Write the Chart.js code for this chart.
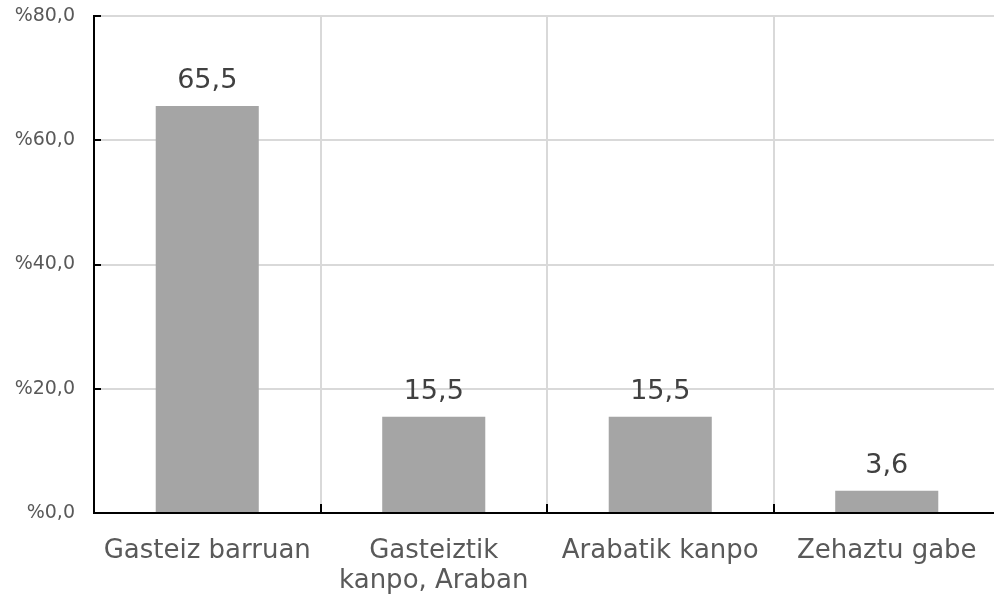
<!DOCTYPE html>
<html>
<head>
<meta charset="utf-8">
<script src="https://cdn.jsdelivr.net/npm/chart.js@4"></script>
<style>
  html, body { margin: 0; padding: 0; background: #fff; overflow: hidden; }
  #wrap { width: 1000px; height: 597px; position: relative; }
</style>
</head>
<body>
<div id="wrap"><canvas id="myChart"></canvas></div>
<script>
// categories and values
const categories = ['Gasteiz barruan', ['Gasteiztik', 'kanpo, Araban'], 'Arabatik kanpo', 'Zehaztu gabe'];
const values = [65.5, 15.5, 15.5, 3.6];
const yTicks = [0, 20, 40, 60, 80];

const fmt = (v) => v.toFixed(1).replace('.', ',');

// data labels above the bars + inner tick marks on the axes
const extras = {
    id: 'extras',
    afterDatasetsDraw(chart) {
        const ctx = chart.ctx;
        const meta = chart.getDatasetMeta(0);
        ctx.save();
        ctx.font = '27px "DejaVu Sans"';
        ctx.fillStyle = '#404040';
        ctx.textAlign = 'center';
        ctx.textBaseline = 'alphabetic';
        meta.data.forEach((bar, i) => {
            ctx.fillText(fmt(values[i]), bar.x, bar.y - 18);
        });
        ctx.restore();
    },
    afterDraw(chart) {
        const ctx = chart.ctx;
        const area = chart.chartArea;
        const y = chart.scales.y;
        ctx.save();
        ctx.strokeStyle = '#000';
        ctx.lineWidth = 2;
        ctx.beginPath();
        yTicks.forEach(t => {
            const py = Math.round(y.getPixelForValue(t));
            ctx.moveTo(area.left, py);
            ctx.lineTo(area.left + 7, py);
        });
        const step = (area.right - area.left) / categories.length;
        for (let i = 1; i <= categories.length; i++) {
            const px = Math.round(area.left + step * i);
            ctx.moveTo(px, area.bottom);
            ctx.lineTo(px, area.bottom - 9);
        }
        ctx.stroke();
        ctx.restore();
    }
};

const ctx = document.getElementById('myChart').getContext('2d');
const myChart = new Chart(ctx, {
    type: 'bar',
    data: {
        labels: categories,
        datasets: [{
            data: values,
            backgroundColor: '#a5a5a5',
            borderWidth: 0,
            barPercentage: 0.455,
            categoryPercentage: 1
        }]
    },
    options: {
        responsive: true,
        maintainAspectRatio: false,
        animation: false,
        layout: { padding: 0 },
        plugins: {
            legend: { display: false },
            tooltip: { enabled: false }
        },
        scales: {
            x: {
                offset: true,
                afterFit(scale) { scale.height = 84; },
                grid: { offset: true, color: '#d9d9d9', lineWidth: 2, drawTicks: false },
                border: { display: true, color: '#000', width: 2 },
                ticks: {
                    color: '#595959',
                    font: { family: 'DejaVu Sans', size: 26, lineHeight: 1.15 },
                    padding: 23,
                    maxRotation: 0,
                    autoSkip: false
                }
            },
            y: {
                min: 0,
                max: 80,
                afterFit(scale) {
                    scale.width = 94;
                    scale.paddingTop = 16;
                    scale.paddingBottom = 0;
                },
                afterBuildTicks(scale) { scale.ticks = yTicks.map(v => ({ value: v })); },
                grid: { color: '#d9d9d9', lineWidth: 2, drawTicks: false },
                border: { display: true, color: '#000', width: 2 },
                ticks: {
                    color: '#595959',
                    font: { family: 'DejaVu Sans', size: 19 },
                    padding: 19,
                    callback: (v) => '%' + fmt(v)
                }
            }
        }
    },
    plugins: [extras]
});
</script>
</body>
</html>
